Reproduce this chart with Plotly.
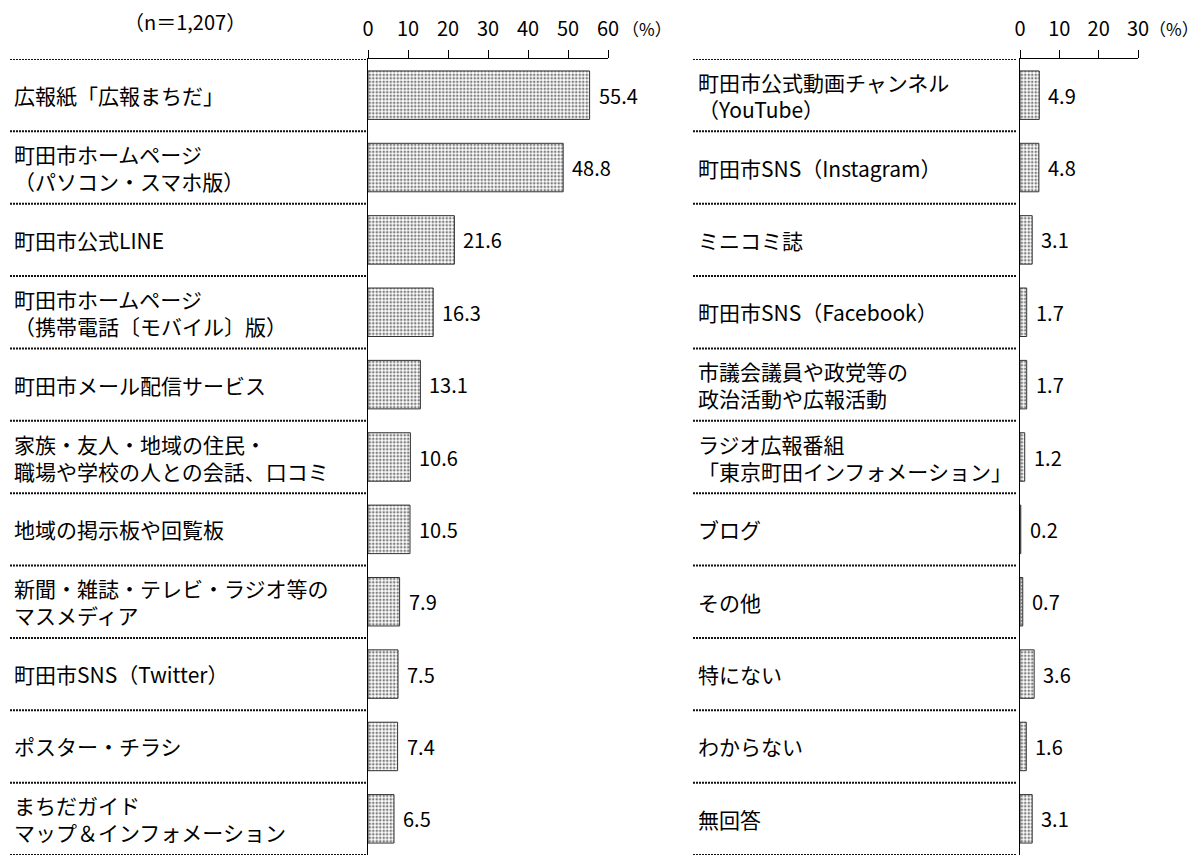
import plotly.graph_objects as go

# left panel
left_labels = [
    "広報紙「広報まちだ」",
    "町田市ホームページ<br>（パソコン・スマホ版）",
    "町田市公式LINE",
    "町田市ホームページ<br>（携帯電話〔モバイル〕版）",
    "町田市メール配信サービス",
    "家族・友人・地域の住民・<br>職場や学校の人との会話、口コミ",
    "地域の掲示板や回覧板",
    "新聞・雑誌・テレビ・ラジオ等の<br>マスメディア",
    "町田市SNS（Twitter）",
    "ポスター・チラシ",
    "まちだガイド<br>マップ＆インフォメーション",
]
left_values = [55.4, 48.8, 21.6, 16.3, 13.1, 10.6, 10.5, 7.9, 7.5, 7.4, 6.5]
left_ticks = [0, 10, 20, 30, 40, 50, 60]

# right panel
right_labels = [
    "町田市公式動画チャンネル<br>（YouTube）",
    "町田市SNS（Instagram）",
    "ミニコミ誌",
    "町田市SNS（Facebook）",
    "市議会議員や政党等の<br>政治活動や広報活動",
    "ラジオ広報番組<br>「東京町田インフォメーション」",
    "ブログ",
    "その他",
    "特にない",
    "わからない",
    "無回答",
]
right_values = [4.9, 4.8, 3.1, 1.7, 1.7, 1.2, 0.2, 0.7, 3.6, 1.6, 3.1]
right_ticks = [0, 10, 20, 30]

n_label = "（n＝1,207）"
unit = "（%）"

# the page body has an 8px margin, so the figure is shrunk and shifted by it
OFF = 8
W, H = 1202 - OFF, 856 - OFF
FONT = "Noto Sans CJK JP"
FS = 20

def px(x):
    return (x - OFF) / W

def py(y):
    return 1 - (y - OFF) / H

rows = list(range(len(left_labels)))

fig = go.Figure()

pattern = dict(shape=".", fgcolor="black", bgcolor="white", size=3.5, solidity=0.45)

fig.add_trace(go.Bar(
    x=left_values, y=rows, orientation="h", width=0.67,
    marker=dict(color="white", pattern=pattern, line=dict(color="#333", width=1)),
    xaxis="x", yaxis="y", hoverinfo="x",
))
fig.add_trace(go.Bar(
    x=right_values, y=rows, orientation="h", width=0.67,
    marker=dict(color="white", pattern=pattern, line=dict(color="#333", width=1)),
    xaxis="x2", yaxis="y2", hoverinfo="x",
))

ydom = [py(855), py(59)]
axis_common = dict(side="top", showgrid=False, zeroline=False, showline=True,
                   linecolor="black", linewidth=1, ticks="outside", ticklen=8,
                   tickcolor="black", automargin=False, ticklabelstandoff=6,
                   tickfont=dict(size=FS, family=FONT, color="black"))
yaxis_common = dict(range=[10.5, -0.5], showticklabels=False, showgrid=False,
                    zeroline=False, showline=True, linecolor="black", linewidth=1,
                    ticks="", domain=ydom, automargin=False)

fig.update_layout(
    width=W, height=H,
    margin=dict(l=0, r=0, t=0, b=0),
    plot_bgcolor="white", paper_bgcolor="white",
    showlegend=False,
    font=dict(family=FONT, size=FS, color="black"),
    xaxis=dict(domain=[px(368), px(608)], range=[0, 60], tickvals=left_ticks,
               anchor="y", **axis_common),
    yaxis=dict(anchor="x", **yaxis_common),
    xaxis2=dict(domain=[px(1020), px(1138)], range=[0, 30], tickvals=right_ticks,
                anchor="y2", **axis_common),
    yaxis2=dict(anchor="x2", **yaxis_common),
)

# dotted separators between rows
for k in range(len(rows) + 1):
    fig.add_shape(type="line", xref="paper", yref="y", x0=px(10), x1=px(366),
                  y0=k - 0.5, y1=k - 0.5, line=dict(color="#111", width=2, dash="2px,1px"))
    fig.add_shape(type="line", xref="paper", yref="y2", x0=px(693), x1=px(1017),
                  y0=k - 0.5, y1=k - 0.5, line=dict(color="#111", width=2, dash="2px,1px"))

# category labels and values
for i in rows:
    fig.add_annotation(x=px(12), y=i, xref="paper", yref="y", text=left_labels[i],
                       showarrow=False, xanchor="left", align="left",
                       font=dict(size=21))
    fig.add_annotation(x=left_values[i], y=i, xref="x", yref="y",
                       text=f"{left_values[i]:.1f}", showarrow=False,
                       xanchor="left", xshift=7)
    fig.add_annotation(x=px(696), y=i, xref="paper", yref="y2", text=right_labels[i],
                       showarrow=False, xanchor="left", align="left",
                       font=dict(size=21))
    fig.add_annotation(x=right_values[i], y=i, xref="x2", yref="y2",
                       text=f"{right_values[i]:.1f}", showarrow=False,
                       xanchor="left", xshift=7)

fig.add_annotation(x=px(185), y=py(22), xref="paper", yref="paper", text=n_label,
                   showarrow=False, xanchor="center", yanchor="middle")
fig.add_annotation(x=px(620), y=py(28), xref="paper", yref="paper", text=unit,
                   showarrow=False, xanchor="left", yanchor="middle",
                   font=dict(size=17))
fig.add_annotation(x=px(1201), y=py(28), xref="paper", yref="paper", text=unit,
                   showarrow=False, xanchor="right", yanchor="middle",
                   font=dict(size=17))

fig.write_html("out.html")
